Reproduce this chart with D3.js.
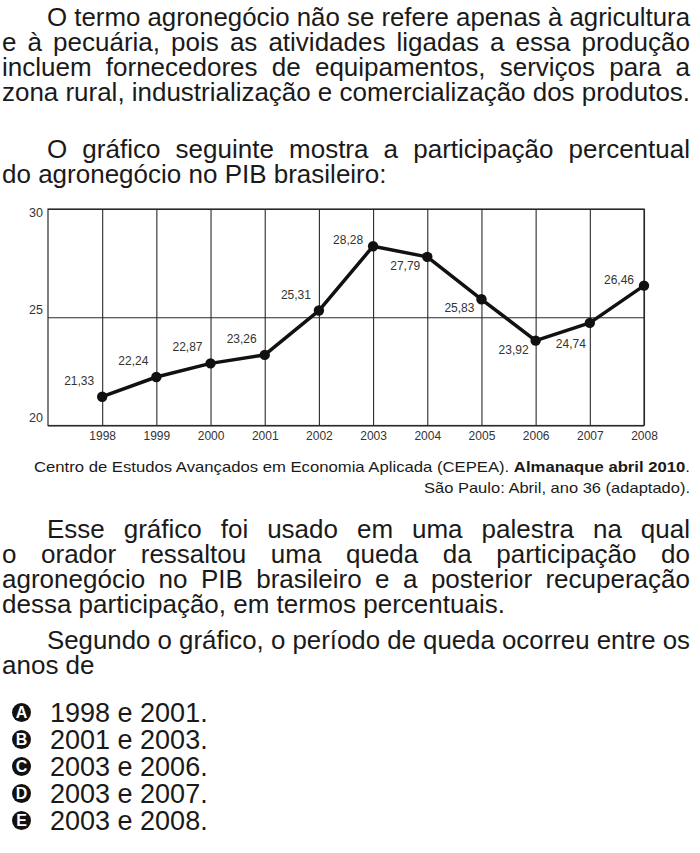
<!DOCTYPE html>
<html>
<head>
<meta charset="utf-8">
<script src="https://cdn.jsdelivr.net/npm/d3@7"></script>
<style>
  body { margin: 0; background: #fff; }
  svg { display: block; }
</style>
</head>
<body>
<script>
// chart values
const years = [1998, 1999, 2000, 2001, 2002, 2003, 2004, 2005, 2006, 2007, 2008];
const shares = [21.33, 22.24, 22.87, 23.26, 25.31, 28.28, 27.79, 25.83, 23.92, 24.74, 26.46];
const yTicks = [20, 25, 30];

// texts around the chart
const para1 = [
  "O termo agronegócio não se refere apenas à agricultura",
  "e à pecuária, pois as atividades ligadas a essa produção",
  "incluem fornecedores de equipamentos, serviços para a",
  "zona rural, industrialização e comercialização dos produtos."
];
const para2 = [
  "O gráfico seguinte mostra a participação percentual",
  "do agronegócio no PIB brasileiro:"
];
const para3 = [
  "Esse gráfico foi usado em uma palestra na qual",
  "o orador ressaltou uma queda da participação do",
  "agronegócio no PIB brasileiro e a posterior recuperação",
  "dessa participação, em termos percentuais."
];
const para4 = [
  "Segundo o gráfico, o período de queda ocorreu entre os",
  "anos de"
];
const optionLetters = ["A", "B", "C", "D", "E"];
const optionTexts = ["1998 e 2001.", "2001 e 2003.", "2003 e 2006.", "2003 e 2007.", "2003 e 2008."];

// where each value label sits around its dot
const labelPlace = ["nw", "nw", "nw", "nw", "nw", "w", "sw", "sw", "sw", "s", "w"];

var W = 700, H = 853;
var textColor = "#1a1a1a";

var svg = d3.select("body").append("svg")
    .attr("width", W)
    .attr("height", H)
    .attr("font-family", "'Liberation Sans', Arial, Helvetica, sans-serif");

// ---- justified paragraphs ----
function paragraph(lines, baseline, justifyLast) {
  var g = svg.append("g").attr("fill", textColor).attr("font-size", 26);
  lines.forEach(function(line, i) {
    var x0 = i === 0 ? 47 : 2;
    var t = g.append("text")
        .attr("x", x0)
        .attr("y", baseline + i * 25)
        .style("white-space", "pre")
        .text(line);
    var last = i === lines.length - 1;
    if (last && !justifyLast) return;
    var target = 690 - x0;
    var natural = t.node().getComputedTextLength();
    var spaces = (line.match(/ /g) || []).length;
    if (natural < target && spaces > 0) {
      t.attr("word-spacing", (target - natural) / spaces);
    } else {
      t.attr("textLength", target).attr("lengthAdjust", "spacingAndGlyphs");
    }
  });
}

paragraph(para1, 26, true);
paragraph(para2, 158, false);
paragraph(para3, 538, false);
paragraph(para4, 649, false);

// ---- chart ----
var margin = {left: 48, right: 56, top: 209, bottom: 427.5};
var width = W - margin.left - margin.right,
    height = H - margin.top - margin.bottom;

var x = d3.scaleLinear()
    .domain([1997, 2008])
    .range([0, width]);

var y = d3.scaleLinear()
    .domain([20, 30])
    .range([height, 0]);

var chart = svg.append("g")
    .attr("transform", "translate(" + margin.left + "," + margin.top + ")");

// vertical grid + year labels
var xAxis = chart.append("g")
    .attr("transform", "translate(0," + height + ")")
    .call(d3.axisBottom(x).tickValues(years).tickSize(-height).tickPadding(6).tickFormat(d3.format("d")));
xAxis.select(".domain").remove();
xAxis.selectAll("line").attr("stroke", "#2a2a2a").attr("stroke-width", 1.1);
xAxis.selectAll("text")
    .attr("fill", "#333")
    .attr("font-size", 12)
    .attr("font-family", "'Liberation Sans', Arial, sans-serif");

// horizontal grid + value ticks
var yAxis = chart.append("g")
    .call(d3.axisLeft(y).tickValues(yTicks).tickSize(-width).tickPadding(5));
yAxis.select(".domain").remove();
yAxis.selectAll("line").attr("stroke", "#2a2a2a").attr("stroke-width", 1.1);
yAxis.selectAll("text")
    .attr("fill", "#333")
    .attr("font-size", 12.5)
    .attr("font-family", "'Liberation Sans', Arial, sans-serif")
    .attr("y", function(d) { return Math.max(-8, -y(d) + 3); });

// frame
chart.append("rect")
    .attr("width", width)
    .attr("height", height)
    .attr("fill", "none")
    .attr("stroke", "#2a2a2a")
    .attr("stroke-width", 1.2);

var pts = years.map(function(yr, i) { return {year: yr, value: shares[i], place: labelPlace[i]}; });

var line = d3.line()
    .x(function(d) { return x(d.year); })
    .y(function(d) { return y(d.value); });

chart.append("path")
    .datum(pts)
    .attr("d", line)
    .attr("fill", "none")
    .attr("stroke", "#111")
    .attr("stroke-width", 3.5)
    .attr("stroke-linejoin", "round");

chart.selectAll(".dot")
    .data(pts)
    .enter().append("circle")
    .attr("class", "dot")
    .attr("cx", function(d) { return x(d.year); })
    .attr("cy", function(d) { return y(d.value); })
    .attr("r", 5.2)
    .attr("fill", "#111");

var ptBR = d3.formatLocale({decimal: ",", thousands: ".", grouping: [3], currency: ["R$", ""]});
var fmt = ptBR.format(".2f");

var offsets = {
  nw: {dx: -8, dy: -12, anchor: "end"},
  w:  {dx: -10, dy: -2, anchor: "end"},
  sw: {dx: -7, dy: 13, anchor: "end"},
  s:  {dx: -19, dy: 25, anchor: "middle"}
};

chart.selectAll(".val")
    .data(pts)
    .enter().append("text")
    .attr("class", "val")
    .attr("x", function(d) { return x(d.year) + offsets[d.place].dx; })
    .attr("y", function(d) { return y(d.value) + offsets[d.place].dy; })
    .attr("text-anchor", function(d) { return offsets[d.place].anchor; })
    .attr("font-size", 12)
    .attr("fill", "#333")
    .text(function(d) { return fmt(d.value); });

// ---- source ----
var src = svg.append("g")
    .attr("font-size", 14.5)
    .attr("fill", textColor)
    .attr("text-anchor", "end");
var s1 = src.append("text").attr("x", 690).attr("y", 472)
    .attr("textLength", 656).attr("lengthAdjust", "spacingAndGlyphs");
s1.append("tspan").text("Centro de Estudos Avançados em Economia Aplicada (CEPEA). ");
s1.append("tspan").attr("font-weight", "bold").text("Almanaque abril 2010");
s1.append("tspan").text(".");
src.append("text").attr("x", 690).attr("y", 493)
    .attr("textLength", 266).attr("lengthAdjust", "spacingAndGlyphs")
    .text("São Paulo: Abril, ano 36 (adaptado).");

// ---- options ----
var opts = svg.append("g")
    .selectAll("g")
    .data(optionLetters)
    .enter().append("g")
    .attr("transform", function(d, i) { return "translate(0," + (721.5 + i * 27) + ")"; });

opts.append("circle")
    .attr("cx", 21.5)
    .attr("cy", -9)
    .attr("r", 9.5)
    .attr("fill", "#111");

opts.append("text")
    .attr("x", 21.5)
    .attr("y", -3.2)
    .attr("text-anchor", "middle")
    .attr("font-size", 16)
    .attr("font-weight", "bold")
    .attr("fill", "#fff")
    .text(function(d) { return d; });

opts.append("text")
    .attr("x", 50)
    .attr("font-size", 27)
    .attr("fill", textColor)
    .text(function(d, i) { return optionTexts[i]; });
</script>
</body>
</html>
